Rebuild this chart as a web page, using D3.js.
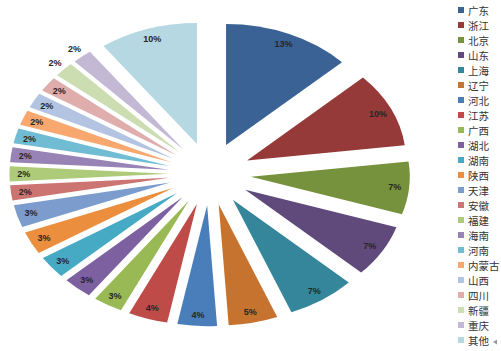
<!DOCTYPE html>
<html><head><meta charset="utf-8">
<script src="https://cdn.jsdelivr.net/npm/d3@7"></script>
<style>body{margin:0;background:#fff}svg{display:block}</style>
</head><body>
<svg id="c" width="501" height="351"></svg>
<script>
const categories = ["广东","浙江","北京","山东","上海","辽宁","河北","江苏","广西","湖北","湖南","陕西","天津","安徽","福建","海南","河南","内蒙古","山西","四川","新疆","重庆","其他"];
const values = [13,10,7,7,7,5,4,4,3,3,3,3,3,2,2,2,2,2,2,2,2,2,10];
const colors = ["#3B6295","#953A38","#76923C","#5F4A7B","#35869B","#C5732E",
  "#4A7EBB","#BE4B48","#98B954","#7D60A0","#46AAC5","#EB8E3D",
  "#7B9CCD","#CC7471","#AECB7A","#9783B5","#70BCD2","#F8A86E",
  "#B3C3E2","#DEADAC","#CCDDB1","#C3B9D4","#B6D8E3"];

const svg = d3.select("#c");
const cx = 209.7, cy = 173.8;
const R = 121;            // vertical radius in px
const sx = 159 / 121;     // horizontal stretch
const explode = 31.4;     // explosion in circle units

const total = d3.sum(values);
const data = categories.map((c, i) => ({name: c, value: values[i], color: colors[i]}));
const pie = d3.pie().value(d => d.value).sort(null).startAngle(0).endAngle(2 * Math.PI);
const arcs = pie(data);
const arc = d3.arc().innerRadius(0).outerRadius(R);

const g = svg.append("g").attr("transform", `translate(${cx},${cy}) scale(${sx},1)`);
g.selectAll("path").data(arcs).join("path")
  .attr("transform", d => {
    const m = (d.startAngle + d.endAngle) / 2;
    return `translate(${explode * Math.sin(m)},${-explode * Math.cos(m)})`;
  })
  .attr("d", arc)
  .attr("fill", d => d.data.color);

// labels
const fmt = d3.format(".0%");
svg.append("g").selectAll("text").data(arcs).join("text")
  .each(function(d) {
    const m = (d.startAngle + d.endAngle) / 2;
    const deg = m * 180 / Math.PI;
    const f = (d.data.value / total <= 0.02 && deg > 310) ? 1.075 : 0.91;
    const r = explode + R * f;
    d3.select(this)
      .attr("x", cx + sx * r * Math.sin(m))
      .attr("y", cy - r * Math.cos(m));
  })
  .attr("text-anchor", "middle")
  .attr("dominant-baseline", "central")
  .attr("font-family", "'Liberation Sans', Arial, sans-serif")
  .attr("font-weight", "bold")
  .attr("font-size", 9)
  .attr("fill", "#262626")
  .text(d => fmt(d.data.value / total));

// legend
const leg = svg.append("g");
const ly = d3.scalePoint().domain(categories).range([10, 340]);
const items = leg.selectAll("g").data(data).join("g")
  .attr("transform", d => `translate(458,${ly(d.name)})`);
items.append("rect").attr("x", 0).attr("y", -3).attr("width", 6).attr("height", 6)
  .attr("fill", d => d.color);
items.append("text").attr("x", 10).attr("y", 0.5)
  .attr("dominant-baseline", "central")
  .attr("font-family", "'Noto Sans CJK SC', sans-serif")
  .attr("font-size", 10.5)
  .attr("fill", "#333")
  .text(d => d.name);

// small resize marker bottom-right
svg.append("path").attr("d", "M493,342 L497,339.5 L497,344.5 Z").attr("fill", "#999");
</script>
</body></html>
